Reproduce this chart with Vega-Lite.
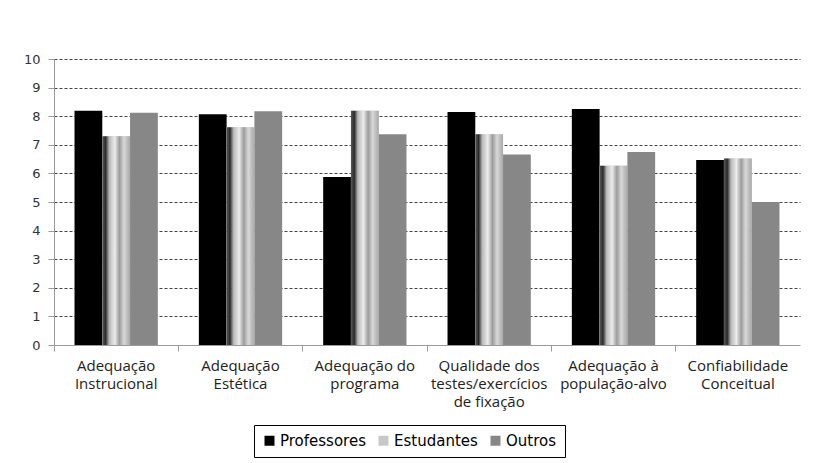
{
  "$schema": "https://vega.github.io/schema/vega-lite/v6.json",
  "autosize": "none",
  "width": 746,
  "height": 286,
  "padding": {"left": 54, "top": 59, "right": 18, "bottom": 118},
  "background": "white",
  "config": {
    "view": {"stroke": null}
  },
  "data": {
    "values": [
      {"cat": "Adequação|Instrucional", "serie": "Professores", "valor": 8.19},
      {"cat": "Adequação|Instrucional", "serie": "Estudantes", "valor": 7.30},
      {"cat": "Adequação|Instrucional", "serie": "Outros", "valor": 8.12},
      {"cat": "Adequação|Estética", "serie": "Professores", "valor": 8.07},
      {"cat": "Adequação|Estética", "serie": "Estudantes", "valor": 7.61},
      {"cat": "Adequação|Estética", "serie": "Outros", "valor": 8.17},
      {"cat": "Adequação do|programa", "serie": "Professores", "valor": 5.87},
      {"cat": "Adequação do|programa", "serie": "Estudantes", "valor": 8.19},
      {"cat": "Adequação do|programa", "serie": "Outros", "valor": 7.37},
      {"cat": "Qualidade dos|testes/exercícios|de fixação", "serie": "Professores", "valor": 8.15},
      {"cat": "Qualidade dos|testes/exercícios|de fixação", "serie": "Estudantes", "valor": 7.37},
      {"cat": "Qualidade dos|testes/exercícios|de fixação", "serie": "Outros", "valor": 6.66},
      {"cat": "Adequação à|população-alvo", "serie": "Professores", "valor": 8.25},
      {"cat": "Adequação à|população-alvo", "serie": "Estudantes", "valor": 6.27},
      {"cat": "Adequação à|população-alvo", "serie": "Outros", "valor": 6.75},
      {"cat": "Confiabilidade|Conceitual", "serie": "Professores", "valor": 6.47},
      {"cat": "Confiabilidade|Conceitual", "serie": "Estudantes", "valor": 6.52},
      {"cat": "Confiabilidade|Conceitual", "serie": "Outros", "valor": 5.00}
    ]
  },
  "encoding": {
    "x": {
      "field": "cat",
      "type": "nominal",
      "sort": null,
      "scale": {"paddingInner": 0.33, "paddingOuter": 0.165},
      "title": null,
      "axis": {
        "orient": "bottom",
        "labelAngle": 0,
        "labelExpr": "split(datum.label, '|')",
        "labelFont": "Open Sans",
        "labelFontSize": 15,
        "labelLineHeight": 18,
        "labelColor": "#222",
        "labelPadding": 13,
        "ticks": false,
        "domain": true,
        "domainColor": "#9a9a9a",
        "domainWidth": 1,
        "grid": false,
        "zindex": 1
      }
    },
    "xOffset": {
      "field": "serie",
      "type": "nominal",
      "scale": {"domain": ["Professores", "Estudantes", "Outros"], "paddingInner": 0, "paddingOuter": 0}
    },
    "y": {
      "field": "valor",
      "type": "quantitative",
      "scale": {"domain": [0, 10], "nice": false},
      "title": null,
      "axis": {
        "values": [0, 1, 2, 3, 4, 5, 6, 7, 8, 9, 10],
        "labelFont": "DejaVu Sans",
        "labelFontSize": 13,
        "labelColor": "#333",
        "labelPadding": 8,
        "tickSize": 6,
        "tickColor": "#9a9a9a",
        "domainColor": "#9a9a9a",
        "grid": true,
        "gridColor": "#444",
        "gridDash": [3, 2],
        "gridWidth": 1,
        "gridOpacity": {"condition": {"test": "datum.value == 0", "value": 0}, "value": 1}
      }
    }
  },
  "layer": [
    {
      "mark": {"type": "bar"},
      "encoding": {
        "color": {
          "field": "serie",
          "type": "nominal",
          "scale": {
            "domain": ["Professores", "Estudantes", "Outros"],
            "range": ["#000000", "#c8c8c8", "#878787"]
          },
          "legend": {
            "title": null,
            "orient": "none",
            "legendX": 200,
            "legendY": 366,
            "direction": "horizontal",
            "strokeColor": "#000",
            "fillColor": "#fff",
            "padding": 8,
            "symbolType": "square",
            "symbolSize": 100,
            "symbolStrokeWidth": 0,
            "symbolOpacity": 1,
            "labelFont": "DejaVu Sans",
            "labelFontSize": 15,
            "labelColor": "#000",
            "labelOffset": 3,
            "columnPadding": 10
          }
        }
      }
    },
    {
      "transform": [{"filter": "datum.serie == 'Estudantes'"}],
      "mark": {
        "type": "bar",
        "fill": {
          "gradient": "linear",
          "x1": 0, "y1": 0, "x2": 1, "y2": 0,
          "stops": [
            {"offset": 0, "color": "#5a5a5a"},
            {"offset": 0.12, "color": "#2a2a2a"},
            {"offset": 0.25, "color": "#b8b8b8"},
            {"offset": 0.45, "color": "#ececec"},
            {"offset": 0.62, "color": "#9c9c9c"},
            {"offset": 0.78, "color": "#d8d8d8"},
            {"offset": 1, "color": "#a8a8a8"}
          ]
        }
      },
      "encoding": {
        "x": {
          "field": "cat",
          "type": "nominal",
          "sort": null,
          "title": null,
          "axis": {
            "orient": "bottom",
            "labels": false,
            "domain": false,
            "grid": false,
            "ticks": true,
            "tickSize": 6,
            "tickColor": "#9a9a9a",
            "bandPosition": -0.246,
            "zindex": 1
          }
        }
      }
    }
  ],
  "resolve": {"axis": {"x": "independent"}}
}
